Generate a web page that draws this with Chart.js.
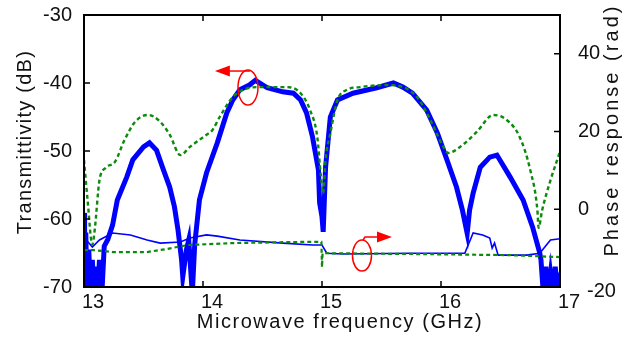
<!DOCTYPE html>
<html>
<head>
<meta charset="utf-8">
<script src="https://cdn.jsdelivr.net/npm/chart.js@4/dist/chart.umd.min.js"></script>
<style>
  html, body { margin: 0; padding: 0; background: #fff; }
  canvas { display: block; }
</style>
</head>
<body>
<canvas id="chart" width="633" height="337"></canvas>
<script>
// simulated transmittivity (dB), green dashed
const simFreq = [13.00, 13.03, 13.07, 13.09, 13.13, 13.18, 13.26, 13.34, 13.43, 13.54, 13.64, 13.72, 13.81, 13.89,
  14.03, 14.08, 14.14, 14.25, 14.35, 14.48, 14.71, 14.82, 14.90, 14.96, 14.99, 15.01, 15.03, 15.07, 15.13, 15.21,
  15.32, 15.55, 15.68, 15.80, 15.91, 16.02, 16.06, 16.16, 16.30, 16.44, 16.55, 16.66, 16.75, 16.81, 16.82, 16.85,
  16.92, 17.00];
const simDb = [-51.3, -57.2, -63.8, -61.6, -54.3, -52.5, -51.6, -48.4, -45.7, -44.7, -45.7, -47.6, -50.6, -49.4,
  -47.6, -46.9, -45.0, -42.1, -40.9, -40.6, -40.6, -41.5, -44.0, -47.9, -53.5, -56.2, -51.3, -47.4, -42.5, -41.0,
  -40.6, -40.3, -40.6, -42.1, -45.4, -49.4, -50.3, -49.4, -47.2, -44.7, -45.4, -47.9, -52.8, -58.7, -61.3, -58.7,
  -54.3, -50.1];

// measured transmittivity (dB), thick blue
const measFreq = [13.00, 13.005, 13.015, 13.025, 13.04, 13.055, 13.07, 13.085, 13.10, 13.115, 13.13, 13.15, 13.17,
  13.20, 13.24, 13.28, 13.36, 13.41, 13.50, 13.55, 13.61, 13.66, 13.72, 13.76, 13.79, 13.82, 13.83, 13.86, 13.88,
  13.91, 13.93, 13.97, 14.03, 14.12, 14.20, 14.25, 14.31, 14.39, 14.44, 14.54, 14.67, 14.76, 14.82, 14.87, 14.92,
  14.97, 14.98, 15.00, 15.01, 15.03, 15.07, 15.13, 15.26, 15.46, 15.60, 15.68, 15.76, 15.88, 15.97, 16.05, 16.13,
  16.18, 16.22, 16.24, 16.27, 16.33, 16.41, 16.47, 16.58, 16.69, 16.77, 16.83, 16.84, 16.86, 16.88, 16.90, 16.92,
  16.94, 16.96, 16.98, 16.99, 17.00];
const measDb = [-59.1, -71, -62.0, -71, -64.5, -71, -66.0, -71, -67.0, -71, -66.0, -71, -64.0,
  -63.0, -60.9, -57.2, -53.8, -51.3, -49.4, -48.8, -49.9, -52.4, -55.3, -58.2, -61.6, -66.0, -68.5, -64.6, -63.1,
  -71, -63.8, -57.2, -53.2, -48.8, -44.4, -42.5, -41.0, -40.3, -39.6, -40.7, -41.3, -41.5, -42.5, -44.4, -47.9,
  -52.8, -57.6, -59.7, -61.9, -52.4, -45.0, -42.5, -41.5, -40.7, -40.0, -40.6, -41.5, -44.0, -47.4, -51.3, -55.3,
  -58.7, -62.1, -58.7, -56.2, -52.4, -50.9, -50.6, -53.8, -57.2, -61.2, -65.0, -66.0, -71, -67.0, -71, -68.0,
  -71, -67.0, -71, -67.9, -71];

// measured phase (rad), thin blue
const phaseMeasFreq = [13.00, 13.02, 13.07, 13.13, 13.24, 13.39, 13.53, 13.64, 13.81, 13.89, 14.03, 14.12, 14.31,
  14.67, 14.92, 15.00, 15.04, 15.18, 15.74, 16.20, 16.27, 16.35, 16.41, 16.43, 16.45, 16.48, 16.72, 16.83, 16.92, 17.00];
const phaseMeasRad = [-7.5, -7.9, -9.7, -7.9, -6.1, -6.6, -7.9, -8.7, -8.4, -7.4, -6.6, -6.9, -7.9,
  -8.7, -9.2, -9.2, -11.3, -11.5, -11.3, -11.3, -6.1, -6.6, -7.4, -10.0, -8.7, -11.8, -11.8, -11.3, -7.9, -7.6];

// simulated phase (rad), green dashed
const phaseSimFreq = [13.00, 13.08, 13.24, 13.53, 13.70, 13.87, 14.25, 14.82, 14.995, 15.00, 15.005, 15.74, 16.58, 17.00];
const phaseSimRad = [-10.5, -10.5, -11.0, -11.0, -10.2, -9.2, -8.7, -8.4, -8.4, -14.9, -11.3, -11.5, -11.8, -12.3];

const xTicks = [13, 14, 15, 16, 17];
const dbTicks = [-70, -60, -50, -40, -30];
const radTicks = [-20, 0, 20, 40];

const FONT = 'Liberation Sans, Arial, Helvetica, sans-serif';
const BLUE = '#0000ff';
const GREEN = '#0b8a0b';
const RED = '#ff0000';

function pts(xs, ys) {
  return xs.map((x, i) => ({ x: x, y: ys[i] }));
}

// draw text stretched to a given length (the original lettering is wide)
function fitText(ctx, text, len) {
  ctx.letterSpacing = '0px';
  const w = ctx.measureText(text).width;
  ctx.letterSpacing = ((len - w) / (text.length - 1)) + 'px';
}

const framePlugin = {
  id: 'frame',
  afterDraw(chart) {
    const { ctx, chartArea: a, scales } = chart;
    ctx.save();
    ctx.strokeStyle = '#000';
    ctx.lineWidth = 2;
    ctx.strokeRect(a.left, a.top, a.right - a.left, a.bottom - a.top);

    // inward ticks
    ctx.lineWidth = 1.5;
    ctx.beginPath();
    xTicks.forEach(v => {
      const px = scales.x.getPixelForValue(v);
      ctx.moveTo(px, a.bottom); ctx.lineTo(px, a.bottom - 6);
      ctx.moveTo(px, a.top); ctx.lineTo(px, a.top + 6);
    });
    dbTicks.forEach(v => {
      const py = scales.y.getPixelForValue(v);
      ctx.moveTo(a.left, py); ctx.lineTo(a.left + 6, py);
    });
    radTicks.forEach(v => {
      const py = scales.y2.getPixelForValue(v);
      ctx.moveTo(a.right, py); ctx.lineTo(a.right - 6, py);
    });
    ctx.stroke();

    // annotations: circle + arrow for each curve group
    ctx.strokeStyle = RED;
    ctx.fillStyle = RED;
    ctx.lineWidth = 1.5;
    // left: transmittivity -> left axis
    let cx = scales.x.getPixelForValue(14.378);
    let cy = scales.y.getPixelForValue(-40.66);
    ctx.beginPath();
    ctx.ellipse(cx, cy, 10, 17.5, 0, 0, Math.PI * 2);
    ctx.stroke();
    let ay = scales.y.getPixelForValue(-38.24);
    let tip = scales.x.getPixelForValue(14.10);
    ctx.beginPath();
    ctx.moveTo(cx + 2, ay); ctx.lineTo(tip + 12, ay);
    ctx.stroke();
    ctx.beginPath();
    ctx.moveTo(tip, ay); ctx.lineTo(tip + 15, ay - 5.5); ctx.lineTo(tip + 15, ay + 5.5);
    ctx.closePath(); ctx.fill();
    // right: phase -> right axis
    cx = scales.x.getPixelForValue(15.336);
    cy = scales.y2.getPixelForValue(-11.9);
    ctx.beginPath();
    ctx.ellipse(cx, cy, 9.5, 15.5, 0, 0, Math.PI * 2);
    ctx.stroke();
    ay = scales.y2.getPixelForValue(-7.13);
    tip = scales.x.getPixelForValue(15.588);
    ctx.beginPath();
    ctx.moveTo(cx + 1, cy - 15.5); ctx.lineTo(cx + 3, ay); ctx.lineTo(tip - 12, ay);
    ctx.stroke();
    ctx.beginPath();
    ctx.moveTo(tip, ay); ctx.lineTo(tip - 15, ay - 5.5); ctx.lineTo(tip - 15, ay + 5.5);
    ctx.closePath(); ctx.fill();

    // axis titles
    ctx.fillStyle = '#111';
    ctx.font = '20px ' + FONT;
    ctx.textBaseline = 'alphabetic';
    ctx.textAlign = 'center';
    fitText(ctx, 'Microwave frequency (GHz)', 285);
    ctx.fillText('Microwave frequency (GHz)', 340, 328);

    ctx.save();
    ctx.translate(31, 142);
    ctx.rotate(-Math.PI / 2);
    fitText(ctx, 'Transmittivity (dB)', 183);
    ctx.fillText('Transmittivity (dB)', 0, 0);
    ctx.restore();

    ctx.save();
    ctx.translate(618, 130);
    ctx.rotate(-Math.PI / 2);
    fitText(ctx, 'Phase response (rad)', 250);
    ctx.fillText('Phase response (rad)', 0, 0);
    ctx.restore();

    // bottom right-axis label sits beside the "17"
    ctx.letterSpacing = '0px';
    ctx.textAlign = 'left';
    ctx.textBaseline = 'middle';
    ctx.fillText('-20', 587, 291);
    ctx.restore();
  }
};

const tickFont = { family: FONT, size: 20 };

function fixY(width) {
  return s => {
    s.width = width;
    s.paddingTop = 0;
    s.paddingBottom = 0;
  };
}

new Chart(document.getElementById('chart'), {
  type: 'line',
  data: {
    datasets: [
      {
        label: 'Simulated phase',
        data: pts(phaseSimFreq, phaseSimRad),
        yAxisID: 'y2',
        borderColor: GREEN,
        borderWidth: 2.2,
        borderDash: [4, 3],
        pointRadius: 0,
        tension: 0
      },
      {
        label: 'Simulated transmittivity',
        data: pts(simFreq, simDb),
        yAxisID: 'y',
        borderColor: GREEN,
        borderWidth: 2.4,
        borderDash: [4, 3],
        pointRadius: 0,
        cubicInterpolationMode: 'monotone'
      },
      {
        label: 'Measured phase',
        data: pts(phaseMeasFreq, phaseMeasRad),
        yAxisID: 'y2',
        borderColor: BLUE,
        borderWidth: 1.6,
        pointRadius: 0,
        tension: 0
      },
      {
        label: 'Measured transmittivity',
        data: pts(measFreq, measDb),
        yAxisID: 'y',
        borderColor: BLUE,
        borderWidth: 5,
        pointRadius: 0,
        tension: 0
      }
    ]
  },
  options: {
    responsive: false,
    animation: false,
    layout: { padding: { top: 15 } },
    plugins: {
      legend: { display: false },
      tooltip: { enabled: false }
    },
    scales: {
      x: {
        type: 'linear',
        min: 13,
        max: 17,
        afterBuildTicks: s => { s.ticks = xTicks.map(v => ({ value: v })); },
        afterFit: s => { s.height = 50; s.paddingLeft = 0; s.paddingRight = 0; },
        grid: { display: false, drawTicks: false },
        border: { display: false },
        ticks: { font: tickFont, color: '#111', padding: 3, labelOffset: 9, maxRotation: 0 }
      },
      y: {
        position: 'left',
        min: -70,
        max: -30,
        afterBuildTicks: s => { s.ticks = dbTicks.map(v => ({ value: v })); },
        afterFit: fixY(84),
        grid: { display: false, drawTicks: false },
        border: { display: false },
        ticks: { font: tickFont, color: '#111', padding: 12 }
      },
      y2: {
        position: 'right',
        min: -20,
        max: 50,
        afterBuildTicks: s => { s.ticks = radTicks.map(v => ({ value: v })); },
        afterFit: fixY(73),
        grid: { display: false, drawTicks: false },
        border: { display: false },
        ticks: {
          font: tickFont,
          color: '#111',
          padding: 18,
          callback: v => (v === -20 ? '' : String(v))
        }
      }
    }
  },
  plugins: [framePlugin]
});
</script>
</body>
</html>
